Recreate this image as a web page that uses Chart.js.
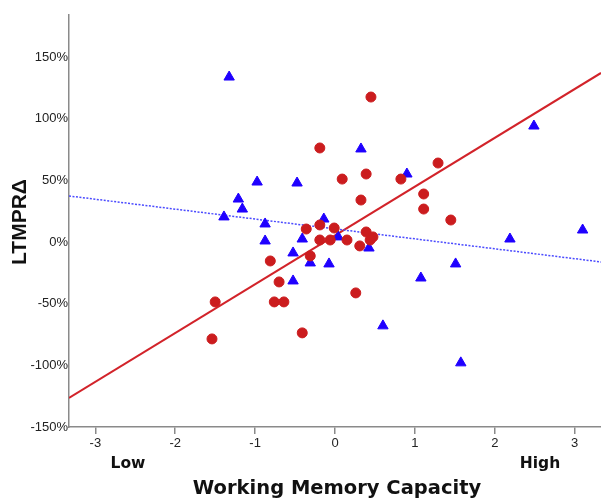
<!DOCTYPE html>
<html lang="en">

<head>
    <meta charset="UTF-8">
    <title>LTMPR vs Working Memory Capacity</title>
    <script src="https://cdn.jsdelivr.net/npm/chart.js"></script>
    <style>
        body {
            margin: 0;
            padding: 0;
            background: white;
            overflow: hidden;
        }

        #wrap {
            width: 601px;
            height: 500px;
        }
    </style>
</head>

<body>
    <div id="wrap">
        <canvas id="wmChart"></canvas>
    </div>

    <script>
        // values
        const xTicks = [-3, -2, -1, 0, 1, 2, 3];
        const yTicks = [-150, -100, -50, 0, 50, 100, 150];

        const blueX = [-1.325, 0.325, -0.975, -0.475, -1.21, -1.16, -1.39, -0.875, -0.14, -0.875, -0.41, 0.04, 0.425,
            -0.525, -0.31, -0.075, -0.525, 0.6, 1.51, 1.075, 1.575, 0.9, 2.49, 2.19, 3.1];
        const blueY = [133.7, 75.4, 48.6, 47.8, 34.8, 26.7, 20.3, 14.6, 18.6, 0.8, 2.4, 4.1, -4.9,
            -8.9, -17, -17.8, -31.6, -68, -17.8, -29.2, -98, 55.1, 94, 2.4, 9.7];

        const redX = [0.45, -0.19, 0.09, 0.39, 0.825, 1.29, 0.325, 1.11, 1.11, 1.45, -0.36, -0.19, -0.01, -0.19, -0.06,
            0.15, 0.39, 0.475, 0.44, 0.31, -0.31, -0.81, -0.7, -1.5, -0.76, -0.64, -1.54, -0.41, 0.26];
        const redY = [117.5, 76.2, 51.0, 55.1, 51.0, 64.0, 34.0, 38.9, 26.7, 17.8, 10.5, 13.8, 11.3, 1.6, 1.6,
            1.6, 8.1, 4.1, 1.6, -3.2, -11.3, -15.4, -32.4, -48.6, -48.6, -48.6, -78.6, -73.7, -41.3];

        // fit lines (ends at the axis limits)
        const fitX = [-3.33, 3.33];
        const redFitY = [-126.5, 137];
        const blueFitY = [37.3, -16.2];

        const toPoints = (xs, ys) => xs.map((x, i) => ({ x: x, y: ys[i] }));

        // axis captions drawn under the chart
        const captionPlugin = {
            id: 'captions',
            afterDraw(chart) {
                const ctx = chart.ctx;
                const area = chart.chartArea;
                ctx.save();
                ctx.fillStyle = '#111';
                ctx.textAlign = 'center';
                ctx.textBaseline = 'middle';
                ctx.font = 'bold 15.5px "DejaVu Sans"';
                ctx.fillText('Low', 128, 464);
                ctx.fillText('High', 540, 464);
                ctx.font = 'bold 19.5px "DejaVu Sans"';
                ctx.fillText('Working Memory Capacity', 337, 489);

                ctx.translate(20, (area.top + area.bottom) / 2 + 1);
                ctx.rotate(-Math.PI / 2);
                ctx.font = 'bold 21px "Liberation Sans", Arial, sans-serif';
                ctx.fillText('LTMPR\u0394', 0, 0);
                ctx.restore();
            }
        };

        const ctx = document.getElementById('wmChart').getContext('2d');

        new Chart(ctx, {
            type: 'scatter',
            data: {
                datasets: [
                    {
                        label: 'red',
                        data: toPoints(redX, redY),
                        pointStyle: 'circle',
                        pointRadius: 5,
                        pointBorderWidth: 1,
                        backgroundColor: '#CB1C1E',
                        borderColor: '#CB1C1E'
                    },
                    {
                        label: 'blue',
                        data: toPoints(blueX, blueY),
                        pointStyle: 'triangle',
                        pointRadius: 6,
                        pointBorderWidth: 1,
                        backgroundColor: '#1F00FF',
                        borderColor: '#1F00FF'
                    },
                    {
                        type: 'line',
                        label: 'blue fit',
                        data: toPoints(fitX, blueFitY),
                        borderColor: '#4B4BFF',
                        borderWidth: 1.5,
                        borderDash: [2, 1.5],
                        pointRadius: 0,
                        fill: false
                    },
                    {
                        type: 'line',
                        label: 'red fit',
                        data: toPoints(fitX, redFitY),
                        borderColor: '#D2232A',
                        borderWidth: 2,
                        pointRadius: 0,
                        fill: false
                    }
                ]
            },
            options: {
                responsive: true,
                maintainAspectRatio: false,
                animation: false,
                layout: {
                    autoPadding: false,
                    padding: { top: 15, right: 0, left: 0, bottom: 0 }
                },
                plugins: {
                    legend: { display: false },
                    tooltip: { enabled: false }
                },
                scales: {
                    x: {
                        type: 'linear',
                        min: -3.33,
                        max: 3.33,
                        afterBuildTicks: (scale) => {
                            scale.ticks = xTicks.map(v => ({ value: v }));
                        },
                        afterFit: (scale) => {
                            scale.height = 73;
                            // no extra room for the end tick labels
                            scale.paddingLeft = 0;
                            scale.paddingRight = 0;
                        },
                        grid: {
                            drawOnChartArea: false,
                            drawTicks: true,
                            tickLength: 7,
                            color: '#8a8a8a',
                            lineWidth: 1.5
                        },
                        border: { color: '#8a8a8a', width: 1.5 },
                        ticks: {
                            color: '#222',
                            padding: 2,
                            maxRotation: 0,
                            font: { family: '"Liberation Sans", Arial, sans-serif', size: 13 }
                        }
                    },
                    y: {
                        type: 'linear',
                        min: -150,
                        max: 184,
                        afterBuildTicks: (scale) => {
                            scale.ticks = yTicks.map(v => ({ value: v }));
                        },
                        afterFit: (scale) => {
                            scale.width = 69;
                            scale.paddingTop = 0;
                            scale.paddingBottom = 0;
                        },
                        grid: { display: false, drawTicks: false },
                        border: { display: true, color: '#8a8a8a', width: 1.5 },
                        ticks: {
                            color: '#222',
                            padding: 1,
                            callback: (v) => v + '%',
                            font: { family: '"Liberation Sans", Arial, sans-serif', size: 13 }
                        }
                    }
                }
            },
            plugins: [captionPlugin]
        });
    </script>
</body>

</html>
